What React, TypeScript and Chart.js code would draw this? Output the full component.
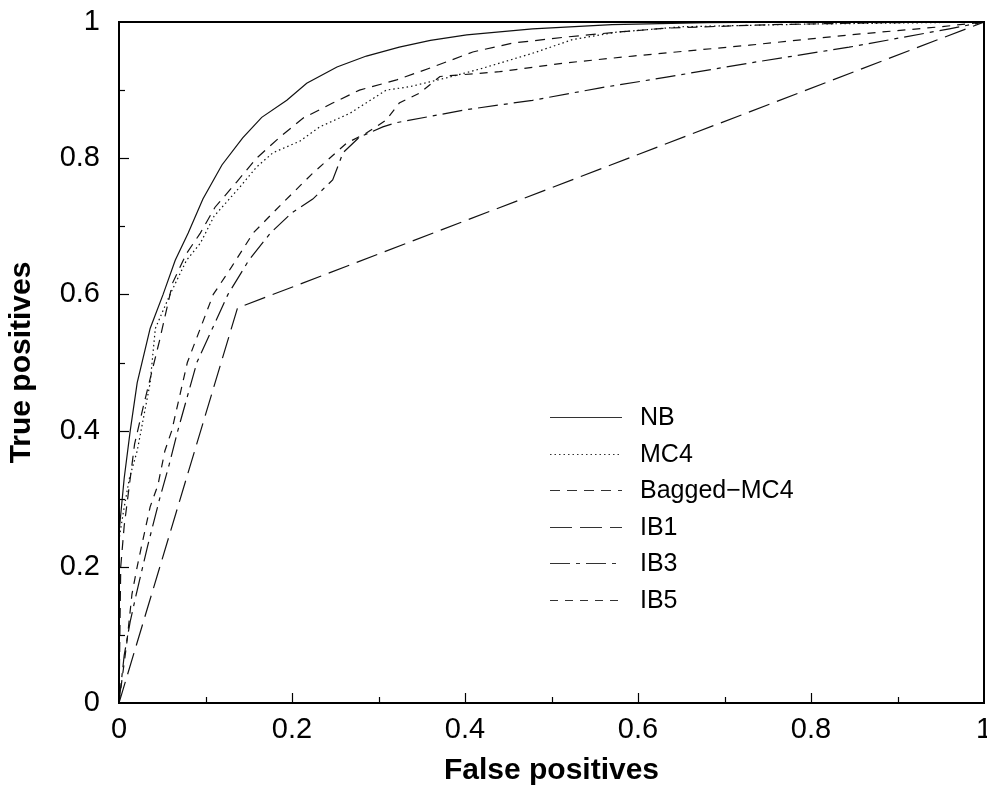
import React, { useEffect, useRef } from 'react';
import { Chart, registerables } from 'chart.js';
Chart.register(...registerables);

// ---- data ----
const seriesNames = ['NB', 'MC4', 'Bagged−MC4', 'IB1', 'IB3', 'IB5'];

const nbX = [0, 0, 0.003, 0.006, 0.013, 0.021, 0.036, 0.051, 0.065, 0.08, 0.097, 0.119, 0.143, 0.165, 0.194, 0.217, 0.252, 0.286, 0.324, 0.36, 0.402, 0.478, 0.57, 0.68, 0.8, 1];
const nbY = [0, 0.25, 0.29, 0.33, 0.40, 0.47, 0.55, 0.60, 0.65, 0.69, 0.74, 0.79, 0.83, 0.86, 0.885, 0.91, 0.934, 0.95, 0.963, 0.973, 0.981, 0.99, 0.996, 0.999, 1, 1];

const mc4X = [0, 0, 0.005, 0.012, 0.021, 0.03, 0.036, 0.042, 0.059, 0.078, 0.094, 0.11, 0.14, 0.159, 0.178, 0.209, 0.232, 0.267, 0.309, 0.336, 0.382, 0.42, 0.478, 0.524, 0.575, 0.65, 0.8, 1];
const mc4Y = [0, 0.24, 0.28, 0.33, 0.37, 0.43, 0.47, 0.55, 0.60, 0.65, 0.675, 0.715, 0.758, 0.787, 0.808, 0.825, 0.846, 0.866, 0.90, 0.905, 0.919, 0.932, 0.954, 0.974, 0.985, 0.993, 0.997, 1];

const baggedX = [0, 0.002, 0.006, 0.012, 0.018, 0.028, 0.047, 0.062, 0.078, 0.094, 0.111, 0.136, 0.159, 0.186, 0.213, 0.247, 0.278, 0.321, 0.363, 0.409, 0.455, 0.517, 0.575, 0.633, 0.75, 0.88, 1];
const baggedY = [0, 0.2, 0.26, 0.32, 0.38, 0.435, 0.533, 0.617, 0.66, 0.69, 0.728, 0.765, 0.80, 0.831, 0.859, 0.881, 0.90, 0.915, 0.934, 0.956, 0.969, 0.978, 0.985, 0.991, 0.996, 0.999, 1];

const ib1X = [0, 0.137, 1];
const ib1Y = [0, 0.58, 1];

const ib3X = [0, 0.006, 0.013, 0.02, 0.033, 0.047, 0.058, 0.068, 0.09, 0.126, 0.15, 0.175, 0.2, 0.224, 0.247, 0.259, 0.278, 0.305, 0.32, 0.40, 0.478, 0.555, 0.633, 0.73, 0.844, 0.96, 1];
const ib3Y = [0, 0.07, 0.12, 0.16, 0.23, 0.30, 0.35, 0.40, 0.50, 0.60, 0.65, 0.69, 0.72, 0.74, 0.768, 0.808, 0.831, 0.846, 0.852, 0.871, 0.885, 0.903, 0.919, 0.94, 0.963, 0.99, 1];

const ib5X = [0, 0.003, 0.009, 0.015, 0.021, 0.026, 0.036, 0.045, 0.053, 0.061, 0.079, 0.109, 0.13, 0.155, 0.189, 0.224, 0.263, 0.286, 0.309, 0.324, 0.348, 0.371, 0.44, 0.517, 0.594, 0.729, 0.844, 0.95, 1];
const ib5Y = [0, 0.03, 0.088, 0.16, 0.2, 0.23, 0.288, 0.32, 0.37, 0.40, 0.50, 0.60, 0.64, 0.69, 0.734, 0.778, 0.822, 0.837, 0.856, 0.881, 0.896, 0.92, 0.927, 0.94, 0.95, 0.966, 0.981, 0.993, 1];

const xTickLabels = ['0', '0.2', '0.4', '0.6', '0.8', '1'];
const yTickLabels = ['0', '0.2', '0.4', '0.6', '0.8', '1'];
const xTitle = 'False positives';
const yTitle = 'True positives';

// ---- styles ----
const FONT = "'Liberation Sans', Arial, Helvetica, sans-serif";
const dashes: number[][] = [[], [1.5, 3], [10, 7], [22, 8], [20, 6, 4, 6], [8, 7]];

const seriesX = [nbX, mc4X, baggedX, ib1X, ib3X, ib5X];
const seriesY = [nbY, mc4Y, baggedY, ib1Y, ib3Y, ib5Y];

const framePlugin = {
  id: 'frameTicks',
  afterDatasetsDraw(chart: any) {
    const { ctx, chartArea, scales } = chart;
    const { left, right, top, bottom } = chartArea;
    ctx.save();
    ctx.strokeStyle = '#000';
    ctx.lineWidth = 1.2;
    ctx.setLineDash([]);
    for (let i = 1; i < 10; i++) {
      const v = i / 10;
      const len = i % 2 === 0 ? 10 : 6;
      const px = Math.round(scales.x.getPixelForValue(v)) + 0.5;
      ctx.beginPath();
      ctx.moveTo(px, bottom);
      ctx.lineTo(px, bottom - len);
      ctx.stroke();
      const py = Math.round(scales.y.getPixelForValue(v)) + 0.5;
      ctx.beginPath();
      ctx.moveTo(left, py);
      ctx.lineTo(left + len, py);
      ctx.stroke();
    }
    ctx.lineWidth = 2;
    ctx.strokeRect(left, top, right - left, bottom - top);
    ctx.restore();
  },
};

const legendPlugin = {
  id: 'innerLegend',
  afterDraw(chart: any) {
    const { ctx, chartArea } = chart;
    const lineStart = chartArea.left + 431;
    const lineLen = 72;
    const textX = chartArea.left + 521;
    const firstY = chartArea.top + 395;
    const gap = 36.6;
    ctx.save();
    chart.data.datasets.forEach((ds: any, i: number) => {
      const y = Math.round(firstY + i * gap) + 0.5;
      ctx.strokeStyle = '#333';
      ctx.lineWidth = 1.2;
      ctx.setLineDash(ds.borderDash || []);
      ctx.beginPath();
      ctx.moveTo(lineStart, y);
      ctx.lineTo(lineStart + lineLen, y);
      ctx.stroke();
      ctx.setLineDash([]);
      ctx.fillStyle = '#000';
      ctx.font = `25px ${FONT}`;
      ctx.textBaseline = 'middle';
      ctx.textAlign = 'left';
      ctx.fillText(ds.label, textX, y + 1);
    });
    ctx.restore();
  },
};

export default function App() {
  const ref = useRef<HTMLCanvasElement>(null);
  useEffect(() => {
    document.body.style.margin = '0';
    const canvas = ref.current;
    if (!canvas) return;
    const datasets = seriesNames.map((name, i) => ({
      label: name,
      data: seriesX[i].map((x, j) => ({ x, y: seriesY[i][j] })),
      borderColor: '#111',
      borderWidth: 1.2,
      borderDash: dashes[i],
      pointRadius: 0,
      fill: false,
      tension: 0,
    }));
    const chart = new Chart(canvas, {
      type: 'line',
      data: { datasets },
      plugins: [framePlugin, legendPlugin],
      options: {
        animation: false,
        responsive: false,
        devicePixelRatio: 1,
        layout: { padding: { top: 22, right: 3, left: 0, bottom: 0 } },
        plugins: { legend: { display: false }, tooltip: { enabled: false } },
        scales: {
          x: {
            type: 'linear',
            min: 0,
            max: 1,
            grid: { display: false, drawTicks: false },
            border: { display: false },
            ticks: {
              stepSize: 0.2,
              padding: 10,
              color: '#000',
              maxRotation: 0,
              font: { family: FONT, size: 29 },
              callback: (_v: any, idx: number) => xTickLabels[idx],
            },
            title: {
              display: true,
              text: xTitle,
              color: '#000',
              padding: 0,
              font: { family: FONT, size: 30, weight: 'bold', lineHeight: 1 },
            },
            afterFit: (s: any) => {
              s.height = 83;
              s.paddingLeft = 0;
              s.paddingRight = 0;
            },
          },
          y: {
            type: 'linear',
            min: 0,
            max: 1,
            grid: { display: false, drawTicks: false },
            border: { display: false },
            ticks: {
              stepSize: 0.2,
              padding: 19,
              color: '#000',
              font: { family: FONT, size: 29 },
              callback: (_v: any, idx: number) => yTickLabels[idx],
            },
            title: {
              display: true,
              text: yTitle,
              color: '#000',
              padding: { top: 7, bottom: 0 },
              font: { family: FONT, size: 30, weight: 'bold', lineHeight: 1 },
            },
            afterFit: (s: any) => {
              s.width = 119;
              s.paddingTop = 0;
              s.paddingBottom = 0;
            },
          },
        },
      } as any,
    });
    return () => chart.destroy();
  }, []);
  return (
    <div style={{ width: 987, height: 786 }}>
      <canvas ref={ref} width={987} height={786} />
    </div>
  );
}
